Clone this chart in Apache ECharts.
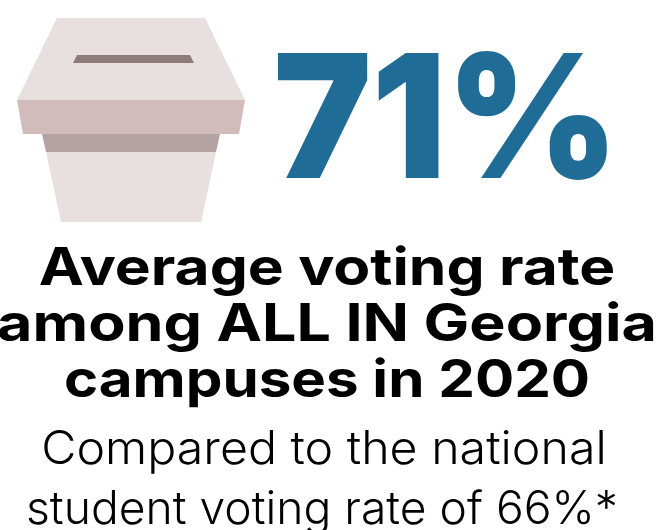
<!DOCTYPE html>
<html><head><meta charset="utf-8">
<style>html,body{margin:0;padding:0;background:#fff}#c{width:657px;height:530px}</style>
<script src="https://cdn.jsdelivr.net/npm/echarts@6/dist/echarts.min.js"></script>
</head><body><div id="c"></div>
<script>
const rateValue = 71;
const nationalValue = 66;
const headlineLines = ['Average voting rate', 'among ALL IN Georgia', 'campuses in 2020'];
const subLines = ['Compared to the national', 'student voting rate of ' + nationalValue + '%*'];
const chart = echarts.init(document.getElementById('c'), null, {renderer:'canvas'});
const poly = (points, fill) => ({type:'polygon', shape:{points}, style:{fill}, silent:true});
const txt = (text, x, y, font, fill, sx) => ({type:'text', x, y, scaleX:sx||1, style:{text, font, fill, align:'center', verticalAlign:'middle'}, silent:true});
const bold = '700 52px Inter';
const light = '300 46px Inter';
chart.setOption({
  animation:false,
  backgroundColor:'#fff',
  graphic:{elements:[
    poly([[57,18],[205,18],[245,100],[17,100]], '#e8dfdf'),
    poly([[77,55],[190,55],[194,63],[73,63]], '#8f7b7b'),
    poly([[17,100],[245,100],[239,134],[23,134]], '#d1bcbb'),
    poly([[42,134],[220,134],[216,152],[46,152]], '#b5a2a2'),
    poly([[46,152],[216,152],[201,222],[61,222]], '#e8dfdf'),
    txt(rateValue + '%', 446, 126, '900 172px Inter', '#1f6d96', 0.96),
    txt(headlineLines[0], 327, 269, bold, '#000', 1.162),
    txt(headlineLines[1], 327, 325, bold, '#000', 1.173),
    txt(headlineLines[2], 327, 381, bold, '#000', 1.12),
    txt(subLines[0], 324, 450, light, '#000', 1.05),
    txt(subLines[1], 322, 510, light, '#000', 1.005)
  ]}
});
</script></body></html>
